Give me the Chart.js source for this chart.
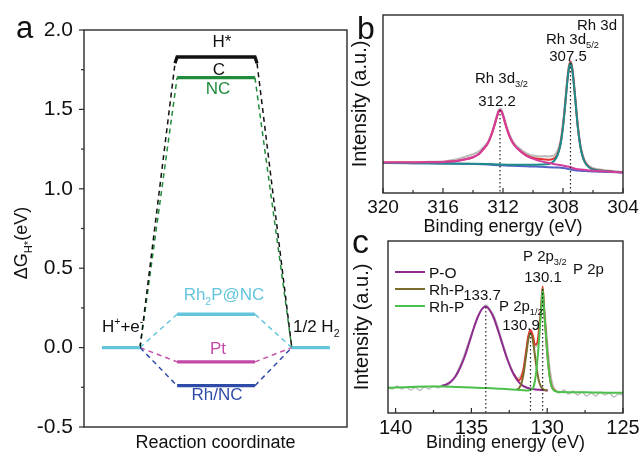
<!DOCTYPE html>
<html><head><meta charset="utf-8">
<script src="https://cdn.jsdelivr.net/npm/chart.js@4.4.0/dist/chart.umd.min.js"></script>
<style>
html,body{margin:0;padding:0;background:#fff;}
#wrap{position:relative;width:640px;height:457px;overflow:hidden;background:#fff;}
canvas{position:absolute;left:0;top:0;}
</style></head><body>
<div id="wrap">
<canvas id="ca" width="640" height="457"></canvas>
<canvas id="cb" width="640" height="457"></canvas>
<canvas id="cc" width="640" height="457"></canvas>
</div>
<script>
// ---------- Panel a data ----------
const reactionInitial = [0.68, 2.13];
const reactionIntermediate = [3.54, 6.50];
const reactionFinal = [7.90, 9.35];
const catalysts = ['Rh2P@NC', 'Pt', 'Rh/NC', 'NC', 'C'];
const dGH = [0.21, -0.09, -0.24, 1.70, 1.83];
const aTickValues = [-0.5, 0, 0.5, 1.0, 1.5, 2.0];
const aMinorTicks = [-0.25, 0.25, 0.75, 1.25, 1.75];

// ---------- Panel b data (Rh 3d), [binding energy, intensity a.u.] ----------
const bTicks = [320, 316, 312, 308, 304];
const bMinorTicks = [318, 314, 310, 306];
const bPeaks = [312.2, 307.5];
const bPeakHeights = [83, 130];
const bRaw = [[320,30.2],[319,31],[318,30.3],[317,31.2],[316,31.4],[315.5,32.6],[315,34],[314.5,36.3],[314,38.8],[313.6,41.5],[313.3,45.8],[313,51],[312.8,58],[312.6,67],[312.4,77.8],[312.3,82.5],[312.2,84.5],[312.1,83],[312,79],[311.8,68.5],[311.6,59.5],[311.4,53],[311.2,48.5],[311,45.8],[310.6,41],[310.2,38],[309.8,36.8],[309.5,36.5],[309.2,36.8],[309,36.5],[308.8,36.8],[308.6,37.5],[308.4,41],[308.2,49.5],[308.1,57.5],[308,69],[307.9,83.5],[307.8,100],[307.7,116],[307.6,127.5],[307.5,131],[307.4,126.5],[307.3,114],[307.2,98],[307.1,81.5],[307,65.5],[306.9,53.5],[306.8,44.5],[306.6,34],[306.4,29],[306.2,26.3],[306,24.8],[305.5,23.3],[305,22.3],[304.5,21.6],[304,21]];
const bFit = [[320,30.5],[319,30.5],[318,30.5],[317,30.7],[316,31],[315.5,31.5],[315,32.3],[314.5,33.7],[314,35.8],[313.6,39],[313.3,44],[313,50],[312.8,57],[312.6,66],[312.4,76.5],[312.3,81],[312.2,83],[312.1,81.5],[312,77.5],[311.8,67],[311.6,58],[311.4,51.5],[311.2,47],[311,44],[310.6,39.2],[310.2,36],[309.8,34.5],[309.5,33.9],[309.2,33.5],[309,33.3],[308.8,33.6],[308.6,34.5],[308.4,37.5],[308.2,47],[308.1,55.5],[308,67],[307.9,81.5],[307.8,98],[307.7,114],[307.6,126],[307.5,131.5],[307.4,126],[307.3,113.5],[307.2,97.3],[307.1,80.3],[307,64.8],[306.9,52.6],[306.8,43.5],[306.6,32.8],[306.4,28],[306.2,25.3],[306,23.7],[305.5,22.4],[305,21.7],[304.5,21],[304,20.7]];
const bBackground = [[320,30],[319,30],[318,29.8],[317,29.7],[316,29.5],[315,29.3],[314,29],[313,28.5],[312.2,27.7],[311,27],[310.2,26.6],[309.2,26.1],[308.4,25.5],[308,25],[307.7,24.2],[307.5,23.5],[307.2,22.7],[307,22.4],[306.5,22],[306,21.6],[305,21],[304,20.5]];
const b3d52 = [[320,30],[318,29.8],[316,29.6],[314,29.2],[313,28.9],[312.2,28.5],[311.4,28.3],[311,28.2],[310.5,28.2],[310,28.2],[309.5,28.4],[309,29],[308.8,30],[308.6,32],[308.4,36.5],[308.2,46],[308.1,54.5],[308,66],[307.9,80.5],[307.8,97],[307.7,113],[307.6,125],[307.5,130],[307.4,125],[307.3,112.5],[307.2,96.5],[307.1,79.5],[307,64],[306.9,52],[306.8,43],[306.6,32.5],[306.4,27.5],[306.2,25],[306,23.5],[305.5,22.3],[305,21.6],[304.5,21],[304,20.7]];
const b3d32 = [[320,30.5],[319,30.5],[318,30.5],[317,30.7],[316,31],[315.5,31.5],[315,32.3],[314.5,33.7],[314,35.8],[313.6,39],[313.3,44],[313,50],[312.8,57],[312.6,66],[312.4,76.5],[312.3,81],[312.2,83],[312.1,81.5],[312,77.5],[311.8,67],[311.6,58],[311.4,51.5],[311.2,47],[311,44],[310.6,38.8],[310.2,35.3],[309.8,33.2],[309.5,31.9],[309.2,30.8],[309,30.2],[308.7,29.3],[308.4,28.5],[308,27.4],[307.6,26.2],[307.2,24.3],[307,23.8],[306.5,23],[306,22.3],[305.5,21.8],[305,21.4],[304.5,21],[304,20.7]];

// ---------- Panel c data (P 2p), [binding energy, intensity a.u.] ----------
const cTicks = [140, 135, 130, 125];
const cMinorTicks = [137.5, 132.5, 127.5];
const cPeaks = [134.05, 131.1, 130.3];
const cPeakHeights = [106, 80, 124];
const cRaw = [[140.5,26],[140.2,24],[139.9,27],[139.6,24],[139.3,26],[139,23],[138.7,25.5],[138.4,22.5],[138.1,26],[137.8,24],[137.5,27],[137.2,25],[136.9,28],[136.6,28],[136.4,30],[136.15,35],[135.85,44],[135.55,55],[135.25,68],[134.95,81],[134.65,94],[134.35,103],[134.05,108],[133.75,103],[133.45,95],[133.15,81],[132.85,66],[132.55,52],[132.25,41],[131.95,35],[131.75,37],[131.55,45],[131.4,61],[131.25,75],[131.1,82],[130.95,75],[130.8,66],[130.65,68],[130.5,86],[130.4,104],[130.3,124],[130.2,108],[130.1,92],[129.95,66],[129.8,42],[129.6,27],[129.4,22],[129.2,20],[128.9,23],[128.6,19],[128.3,22],[128,18],[127.7,21],[127.4,17],[127.1,20],[126.8,17],[126.5,21],[126.2,18],[125.9,20],[125.6,16],[125.3,19],[125,18]];
const cFit = [[132.2,39],[132,34],[131.85,33],[131.7,36],[131.55,45],[131.4,60.5],[131.25,76.5],[131.1,83],[130.95,77.5],[130.8,68.3],[130.65,70.5],[130.5,89.3],[130.4,106.6],[130.3,126.4],[130.2,103.4],[130.1,82],[130,61],[129.9,44.5],[129.8,33],[129.7,26.5],[129.55,23],[129.4,22]];
const cPO = [[136.95,27],[136.65,28.5],[136.35,31.5],[136.05,36.5],[135.75,45],[135.45,56],[135.15,70],[134.85,84.5],[134.55,97],[134.3,104],[134.05,106.5],[133.8,103],[133.55,96],[133.25,83],[132.95,68.5],[132.65,54.5],[132.35,43],[132.05,34.5],[131.75,29],[131.45,26],[131.15,24.5],[130.75,23.5],[130.35,23],[129.95,22.5]];
const cRhP1 = [[132,23.5],[131.85,25],[131.7,29.5],[131.55,40],[131.4,56.5],[131.25,73],[131.1,80],[130.95,73],[130.8,56.5],[130.65,40],[130.5,29.5],[130.35,25],[130.2,23.2],[130,22.5]];
const cRhP2 = [[140.5,25.3],[140,25.5],[139,26],[138,26.5],[137,26.5],[136,26],[135,25.5],[134,25],[133,24.2],[132,23.3],[131.4,22.5],[131.2,22.7],[131.05,23.5],[130.9,26],[130.8,33],[130.7,44.5],[130.6,60.8],[130.5,81.5],[130.4,102],[130.3,124],[130.2,102],[130.1,81],[130,60],[129.9,44],[129.8,32.5],[129.7,26],[129.55,22.5],[129.4,21.5],[129.2,21],[128,20.8],[127,20.5],[126,20.3],[125,20.2]];
const cLegend = ['P-O', 'Rh-P', 'Rh-P'];

// ---------- styles ----------
const FAM = '"Liberation Sans", Arial, Helvetica, sans-serif';
Chart.defaults.font.family = FAM;
Chart.defaults.color = '#111';
const catColors = ['#63c5dc', '#c24aa6', '#2f4ba8', '#1f8b3b', '#111111'];
const INK = '#111';

function drawRich(ctx, segs, x, y, size, color, align, weight) {
  const small = size * 0.62;
  const w = weight || 'normal';
  let total = 0;
  const parts = segs.map(([t, m]) => {
    const fs = m ? small : size;
    ctx.font = w + ' ' + fs + 'px ' + FAM;
    const tw = ctx.measureText(t).width;
    total += tw;
    return {t, m, fs, tw};
  });
  let cx = align === 'center' ? x - total / 2 : align === 'right' ? x - total : x;
  ctx.fillStyle = color; ctx.textBaseline = 'alphabetic'; ctx.textAlign = 'left';
  parts.forEach(p => {
    ctx.font = w + ' ' + p.fs + 'px ' + FAM;
    const dy = p.m === 1 ? size * 0.28 : p.m === 2 ? -size * 0.42 : 0;
    ctx.fillText(p.t, cx, y + dy);
    cx += p.tw;
  });
}

function makeDecor(cfg) {
  return {
    id: 'decor',
    afterDraw(chart) {
      const ctx = chart.ctx, ca = chart.chartArea;
      ctx.save();
      ctx.strokeStyle = '#2a2a2a'; ctx.lineWidth = 1.4;
      ctx.strokeRect(ca.left, ca.top, ca.right - ca.left, ca.bottom - ca.top);
      ctx.lineWidth = 1.2;
      (cfg.tickSets || []).forEach(ts => {
        const sc = chart.scales[ts.axis];
        ts.values.forEach(v => {
          const p = sc.getPixelForValue(v);
          ctx.beginPath();
          if (ts.axis === 'x') { ctx.moveTo(p, ca.bottom); ctx.lineTo(p, ca.bottom + ts.len); }
          else { ctx.moveTo(ca.left, p); ctx.lineTo(ca.left + ts.len, p); }
          ctx.stroke();
        });
      });
      (cfg.legend || []).forEach(l => {
        ctx.strokeStyle = l.color; ctx.lineWidth = 2;
        ctx.beginPath(); ctx.moveTo(l.x, l.y); ctx.lineTo(l.x + 30, l.y); ctx.stroke();
        drawRich(ctx, [[l.label, 0]], l.x + 34, l.y + 5.5, 15.5, INK, 'left');
      });
      (cfg.texts || []).forEach(t => {
        if (t.rotate) {
          ctx.save(); ctx.translate(t.x, t.y); ctx.rotate(-Math.PI / 2);
          drawRich(ctx, t.segs, 0, t.dy || 0, t.size, t.color || INK, t.align || 'center');
          ctx.restore();
        } else {
          drawRich(ctx, t.segs, t.x, t.y, t.size, t.color || INK, t.align || 'left', t.weight);
        }
      });
      ctx.restore();
    }
  };
}

function zeroPad(s) { s.paddingLeft = 0; s.paddingRight = 0; s.paddingTop = 0; s.paddingBottom = 0; }
function pts(arr) { return arr.map(([x, y]) => ({x, y})); }
function curve(arr, color, width, dash) {
  return {data: pts(arr), borderColor: color, borderWidth: width, borderDash: dash || [],
    pointRadius: 0, fill: false, tension: 0, cubicInterpolationMode: 'monotone'};
}
function seg(arr, color, width, dash) {
  return {data: pts(arr), borderColor: color, borderWidth: width, borderDash: dash || [],
    pointRadius: 0, fill: false, tension: 0};
}
// Chart.js paints dataset 0 last (on top); build lists bottom-to-top then reverse.
function paintOrder(list) { return list.slice().reverse(); }
const baseOpts = {responsive: false, animation: false, events: []};

// ---------- Panel a ----------
const dsA = [];
catalysts.forEach((name, i) => {
  const E = dGH[i];
  const bend = name === 'C' ? 0.08 : 0;
  const drop = name === 'C' ? 0.04 : 0;
  dsA.push(seg([[reactionInitial[1], 0], [reactionIntermediate[0] - bend, E - drop]], catColors[i], 1.5, [5, 4]));
  dsA.push(seg([[reactionIntermediate[1] + bend, E - drop], [reactionFinal[0], 0]], catColors[i], 1.5, [5, 4]));
});
catalysts.forEach((name, i) => {
  const E = dGH[i];
  const bend = name === 'C' ? 0.08 : 0;
  const drop = name === 'C' ? 0.04 : 0;
  const arr = bend ? [[reactionIntermediate[0] - bend, E - drop], [reactionIntermediate[0], E], [reactionIntermediate[1], E], [reactionIntermediate[1] + bend, E - drop]]
                   : [[reactionIntermediate[0], E], [reactionIntermediate[1], E]];
  dsA.push(seg(arr, catColors[i], 3.3));
});
dsA.push(seg([[reactionInitial[0], 0], [reactionInitial[1], 0]], catColors[0], 3.3));
dsA.push(seg([[reactionFinal[0], 0], [reactionFinal[1], 0]], catColors[0], 3.3));

new Chart(document.getElementById('ca'), {
  type: 'line',
  data: {datasets: paintOrder(dsA)},
  options: Object.assign({}, baseOpts, {
    layout: {padding: {left: 0, top: 30, right: 293, bottom: 0}},
    plugins: {legend: {display: false}, tooltip: {enabled: false}},
    scales: {
      x: {type: 'linear', min: 0, max: 10, grid: {display: false, drawTicks: false}, border: {display: false},
          ticks: {display: false},
          title: {display: true, text: 'Reaction coordinate', font: {size: 18}, color: INK, padding: {top: 0, bottom: 3}},
          afterFit: s => { s.height = 30; zeroPad(s); }},
      y: {type: 'linear', min: -0.5, max: 2.0, grid: {display: false, drawTicks: false}, border: {display: false},
          afterBuildTicks: s => { s.ticks = aTickValues.map(v => ({value: v})); },
          ticks: {padding: 11, font: {size: 21}, color: INK, callback: v => Number(v).toFixed(1)},
          afterFit: s => { s.width = 84; zeroPad(s); }}
    }
  }),
  plugins: [makeDecor({
    tickSets: [{axis: 'y', values: aTickValues, len: -5}, {axis: 'y', values: aMinorTicks, len: -3}],
    texts: [
      {segs: [['a', 0]], x: 16, y: 38, size: 31},
      {segs: [['ΔG', 0], ['H*', 1], ['(eV)', 0]], x: 20, y: 243, dy: 6.5, size: 18, rotate: true},
      {segs: [['H*', 0]], x: 222, y: 47, size: 17, align: 'center'},
      {segs: [['C', 0]], x: 219, y: 75, size: 17, align: 'center'},
      {segs: [['NC', 0]], x: 218, y: 94, size: 17, align: 'center', color: catColors[3]},
      {segs: [['Rh', 0], ['2', 1], ['P@NC', 0]], x: 224, y: 300, size: 17, align: 'center', color: catColors[0]},
      {segs: [['Pt', 0]], x: 218, y: 354, size: 17, align: 'center', color: catColors[1]},
      {segs: [['Rh/NC', 0]], x: 217, y: 400, size: 17, align: 'center', color: catColors[2]},
      {segs: [['H', 0], ['+', 2], ['+e', 0], ['-', 2]], x: 102, y: 332, size: 17},
      {segs: [['1/2 H', 0], ['2', 1]], x: 293, y: 332, size: 17}
    ]
  })]
});

// ---------- Panel b ----------
const dsB = [
  curve(bRaw, '#bcbcbc', 2.2),
  curve(bFit, '#e23030', 2),
  curve(bBackground, '#5563c4', 2),
  curve(b3d52, '#1f8c8c', 2),
  curve(b3d32, '#d43d9c', 2),
  seg([[bPeaks[0], bPeakHeights[0]], [bPeaks[0], 0]], '#222', 1.2, [1.5, 2.5]),
  seg([[bPeaks[1], bPeakHeights[1]], [bPeaks[1], 0]], '#222', 1.2, [1.5, 2.5])
];
new Chart(document.getElementById('cb'), {
  type: 'line',
  data: {datasets: paintOrder(dsB)},
  options: Object.assign({}, baseOpts, {
    layout: {padding: {left: 340, top: 15, right: 17, bottom: 219}},
    plugins: {legend: {display: false}, tooltip: {enabled: false}},
    scales: {
      x: {type: 'linear', min: 304, max: 320, reverse: true, grid: {display: false, drawTicks: false}, border: {display: false},
          afterBuildTicks: s => { s.ticks = bTicks.map(v => ({value: v})); },
          ticks: {padding: 3, font: {size: 19}, color: INK, maxRotation: 0, autoSkip: false},
          title: {display: true, text: 'Binding energy (eV)', font: {size: 18}, color: INK, padding: {top: 0, bottom: 0}},
          afterFit: s => { s.height = 45; zeroPad(s); }},
      y: {type: 'linear', min: 0, max: 178, grid: {display: false, drawTicks: false}, border: {display: false},
          ticks: {display: false},
          title: {display: true, text: 'Intensity (a.u.)', font: {size: 20}, color: INK, padding: {top: 8, bottom: 0}},
          afterFit: s => { s.width = 43; zeroPad(s); }}
    }
  }),
  plugins: [makeDecor({
    tickSets: [{axis: 'x', values: bTicks, len: -5}, {axis: 'x', values: bMinorTicks, len: -3}],
    texts: [
      {segs: [['b', 0]], x: 357, y: 39, size: 32},
      {segs: [['Rh 3d', 0]], x: 617, y: 30, size: 15, align: 'right'},
      {segs: [['Rh 3d', 0], ['5/2', 1]], x: 546, y: 44, size: 15},
      {segs: [['307.5', 0]], x: 568, y: 61, size: 15, align: 'center'},
      {segs: [['Rh 3d', 0], ['3/2', 1]], x: 475, y: 83, size: 15},
      {segs: [['312.2', 0]], x: 497, y: 106, size: 15, align: 'center'}
    ]
  })]
});

// ---------- Panel c ----------
const dsC = [
  curve(cRaw, '#bdbdbd', 1.4),
  curve(cFit, '#e5352b', 2),
  curve(cPO, '#8e2c8e', 2),
  curve(cRhP1, '#7c6c2c', 2),
  curve(cRhP2, '#4cc04a', 2),
  seg([[cPeaks[0], cPeakHeights[0]], [cPeaks[0], 0]], '#222', 1.2, [1.5, 2.5]),
  seg([[cPeaks[1], cPeakHeights[1]], [cPeaks[1], 0]], '#222', 1.2, [1.5, 2.5]),
  seg([[cPeaks[2], cPeakHeights[2]], [cPeaks[2], 0]], '#222', 1.2, [1.5, 2.5])
];
new Chart(document.getElementById('cc'), {
  type: 'line',
  data: {datasets: paintOrder(dsC)},
  options: Object.assign({}, baseOpts, {
    layout: {padding: {left: 340, top: 241, right: 17, bottom: 0}},
    plugins: {legend: {display: false}, tooltip: {enabled: false}},
    scales: {
      x: {type: 'linear', min: 125, max: 140.5, reverse: true, grid: {display: false, drawTicks: false}, border: {display: false},
          afterBuildTicks: s => { s.ticks = cTicks.map(v => ({value: v})); },
          ticks: {padding: 3, font: {size: 20}, color: INK, maxRotation: 0, autoSkip: false},
          title: {display: true, text: 'Binding energy (eV)', font: {size: 18}, color: INK, padding: {top: 0, bottom: 3}},
          afterFit: s => { s.height = 44; zeroPad(s); }},
      y: {type: 'linear', min: 0, max: 172, grid: {display: false, drawTicks: false}, border: {display: false},
          ticks: {display: false},
          title: {display: true, text: 'Intensity (a.u.)', font: {size: 20}, color: INK, padding: {top: 10, bottom: 0}},
          afterFit: s => { s.width = 48; zeroPad(s); }}
    }
  }),
  plugins: [makeDecor({
    tickSets: [{axis: 'x', values: cTicks, len: -5}, {axis: 'x', values: cMinorTicks, len: -3}],
    legend: [
      {label: cLegend[0], color: '#8e2c8e', x: 395, y: 272},
      {label: cLegend[1], color: '#7c6c2c', x: 395, y: 289},
      {label: cLegend[2], color: '#4cc04a', x: 395, y: 306}
    ],
    texts: [
      {segs: [['c', 0]], x: 352, y: 253, size: 34},
      {segs: [['P 2p', 0], ['3/2', 1]], x: 523, y: 261, size: 15},
      {segs: [['130.1', 0]], x: 543, y: 282, size: 15, align: 'center'},
      {segs: [['P 2p', 0]], x: 573, y: 274, size: 15},
      {segs: [['133.7', 0]], x: 482, y: 300, size: 15, align: 'center'},
      {segs: [['P 2p', 0], ['1/2', 1]], x: 499, y: 311, size: 15},
      {segs: [['130.9', 0]], x: 521, y: 330, size: 15, align: 'center'}
    ]
  })]
});
</script></body></html>
